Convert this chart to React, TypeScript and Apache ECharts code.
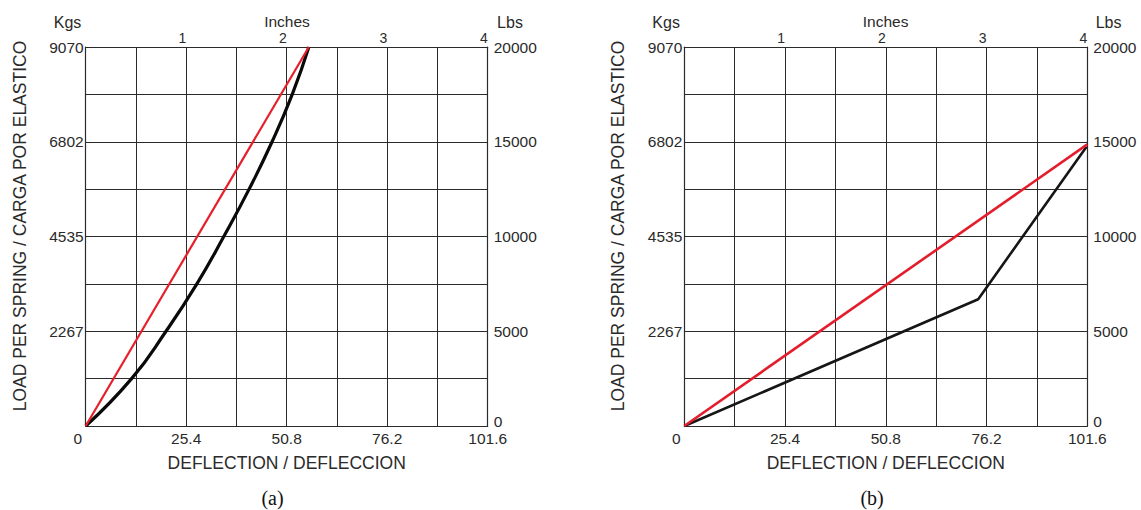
import React, { useEffect, useRef } from "react";
import * as echarts from "echarts";

// ---- data ----
const mmLabels = ["0", "25.4", "50.8", "76.2", "101.6"];
const kgLabels = ["0", "2267", "4535", "6802", "9070"];
const inchLabels = ["", "1", "2", "3", "4"];
const lbsLabels = ["0", "5000", "10000", "15000", "20000"];

// chart (a)
const aBlackMm = [0, 11.6, 20.3, 28.1, 34.9, 41.3, 47.1, 52.2, 56.4];
const aBlackLbs = [0, 2500, 5000, 7500, 10000, 12500, 15000, 17500, 20000];
const aRedMm = [0, 56.4];
const aRedLbs = [0, 20000];

// chart (b)
const bBlackMm = [0, 74.1, 101.4];
const bBlackLbs = [0, 6690, 14740];
const bRedMm = [0, 101.6];
const bRedLbs = [0, 14860];

const FONT = "'Liberation Sans', Arial, Helvetica, sans-serif";
const TXT = "#2a2a2a";
const GRIDC = "#2b2b2b";

const pairs = (xs: number[], ys: number[]) => xs.map((x, i) => [x, ys[i]]);

const grids = [
  { left: 85.7, top: 47, width: 402, height: 379 },
  { left: 684.3, top: 47, width: 403, height: 379 },
];

function axesFor(g: number) {
  const xAxes = [
    {
      type: "value",
      gridIndex: g,
      position: "bottom",
      min: 0,
      max: 101.6,
      interval: 12.7,
      axisLine: { show: true, onZero: false, lineStyle: { color: GRIDC, width: 1.2 } },
      axisTick: { show: false },
      splitLine: { show: true, lineStyle: { color: GRIDC, width: 1 } },
      axisLabel: {
        margin: 4,
        fontSize: 15.5,
        fontFamily: FONT,
        color: TXT,
        formatter: (v: number) => {
          const i = Math.round(v / 12.7);
          if (i % 2) return "";
          const s = mmLabels[i / 2];
          return i === 0 ? "{z|" + s + "}" : s;
        },
        rich: {
          z: { fontSize: 15.5, fontFamily: FONT, color: TXT, padding: [0, 16, 0, 0] },
        },
      },
      name: "DEFLECTION / DEFLECCION",
      nameLocation: "middle",
      nameGap: 28,
      nameTextStyle: { fontSize: 17.5, fontFamily: FONT, color: TXT },
    },
    {
      type: "value",
      gridIndex: g,
      position: "top",
      min: 0,
      max: 4,
      interval: 1,
      axisLine: { show: true, onZero: false, lineStyle: { color: GRIDC, width: 1.2 } },
      axisTick: { show: false },
      splitLine: { show: false },
      axisLabel: {
        margin: 2,
        fontSize: 14,
        fontFamily: FONT,
        color: TXT,
        align: "right",
        formatter: (v: number) => inchLabels[Math.round(v)] || "",
      },
    },
  ];
  const yAxes = [
    {
      type: "value",
      gridIndex: g,
      position: "left",
      min: 0,
      max: 9070,
      interval: 2267.5,
      axisLine: { show: true, onZero: false, lineStyle: { color: GRIDC, width: 1.2 } },
      axisTick: { show: false },
      splitLine: { show: false },
      axisLabel: {
        margin: 2,
        fontSize: 15.5,
        fontFamily: FONT,
        color: TXT,
        formatter: (v: number) => {
          const i = Math.round(v / 2267.5);
          return i === 0 ? "" : kgLabels[i];
        },
      },
    },
    {
      type: "value",
      gridIndex: g,
      position: "right",
      min: 0,
      max: 20000,
      interval: 2500,
      axisLine: { show: true, onZero: false, lineStyle: { color: GRIDC, width: 1.2 } },
      axisTick: { show: false },
      splitLine: { show: true, lineStyle: { color: GRIDC, width: 1 } },
      axisLabel: {
        margin: 6,
        fontSize: 15.5,
        fontFamily: FONT,
        color: TXT,
        formatter: (v: number) => {
          const i = Math.round(v / 2500);
          if (i % 2) return "";
          return i === 0 ? "{b|" + lbsLabels[0] + "}" : lbsLabels[i / 2];
        },
        rich: {
          b: { fontSize: 15.5, fontFamily: FONT, color: TXT, padding: [0, 0, 10, 0] },
        },
      },
    },
  ];
  return { xAxes, yAxes };
}

function topTexts(g: number, caption: string) {
  const left = grids[g].left;
  const dx = left - 85.7;
  const t = (text: string, x: number, y: number, size: number) => ({
    type: "text",
    x,
    y,
    silent: true,
    style: {
      text,
      fill: TXT,
      fontSize: size,
      fontFamily: FONT,
      align: "center",
      verticalAlign: "middle",
    },
  });
  return [
    t("Kgs", 67.5 + dx, 22, 16),
    t("Inches", 287 + dx, 21, 15.5),
    t("Lbs", 510 + dx, 22, 16),
    {
      type: "text",
      x: 19.5 + dx,
      y: 226,
      rotation: Math.PI / 2,
      silent: true,
      style: {
        text: "LOAD PER SPRING / CARGA POR ELASTICO",
        fill: TXT,
        fontSize: 17.5,
        fontFamily: FONT,
        align: "center",
        verticalAlign: "middle",
      },
    },
    {
      type: "text",
      x: 272.5 + dx + (g === 1 ? 1 : 0),
      y: 498,
      silent: true,
      style: {
        text: caption,
        fill: "#111",
        fontSize: 20,
        fontFamily: "'Liberation Serif', 'Times New Roman', serif",
        align: "center",
        verticalAlign: "middle",
      },
    },
  ];
}

export default function App() {
  const ref = useRef<HTMLDivElement>(null);
  useEffect(() => {
    if (!ref.current) return;
    const chart = echarts.init(ref.current, undefined, { renderer: "svg" });
    const a = axesFor(0);
    const b = axesFor(1);
    chart.setOption({
      animation: false,
      backgroundColor: "#fff",
      grid: grids.map((g) => ({ ...g, containLabel: false })),
      xAxis: [...a.xAxes, ...b.xAxes],
      yAxis: [...a.yAxes, ...b.yAxes],
      series: [
        {
          type: "line",
          name: "a-black",
          xAxisIndex: 0,
          yAxisIndex: 1,
          data: pairs(aBlackMm, aBlackLbs),
          smooth: 0.5,
          showSymbol: false,
          lineStyle: { color: "#0a0a0a", width: 3.2 },
        },
        {
          type: "line",
          name: "a-red",
          xAxisIndex: 0,
          yAxisIndex: 1,
          data: pairs(aRedMm, aRedLbs),
          showSymbol: false,
          lineStyle: { color: "#e5202b", width: 2.2 },
        },
        {
          type: "line",
          name: "b-black",
          xAxisIndex: 2,
          yAxisIndex: 3,
          data: pairs(bBlackMm, bBlackLbs),
          showSymbol: false,
          lineStyle: { color: "#161616", width: 2.6 },
        },
        {
          type: "line",
          name: "b-red",
          xAxisIndex: 2,
          yAxisIndex: 3,
          data: pairs(bRedMm, bRedLbs),
          showSymbol: false,
          lineStyle: { color: "#e31d2c", width: 2.6 },
        },
      ],
      graphic: [...topTexts(0, "(a)"), ...topTexts(1, "(b)")],
    });
    return () => chart.dispose();
  }, []);
  return (
    <div
      ref={ref}
      style={{ position: "absolute", left: 0, top: 0, width: 1141, height: 510 }}
    />
  );
}
